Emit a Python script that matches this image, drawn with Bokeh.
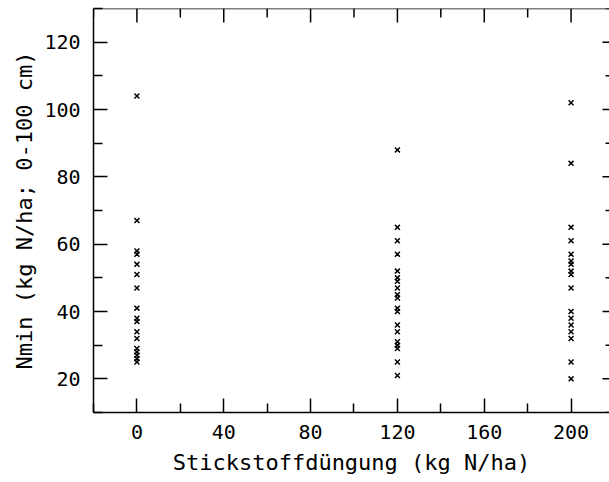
import math
from bokeh.plotting import figure
from bokeh.models import LinearAxis, FixedTicker, Range1d, Span
from bokeh.embed import file_html
from bokeh.resources import INLINE

# Data
n_levels = [0, 120, 200]
nmin_0 = [104, 67, 58, 57, 54, 51, 47, 41, 38, 37, 34, 32, 29, 28, 27, 26, 25]
nmin_120 = [88, 65, 61, 57, 52, 50, 49, 47, 45, 44, 41, 40, 36, 34, 31, 30, 29, 25, 21]
nmin_200 = [102, 84, 65, 61, 57, 55, 54, 52, 51, 47, 40, 38, 36, 34, 32, 25, 20]

x_ticks = [0, 40, 80, 120, 160, 200]
x_minor = [-20, 20, 60, 100, 140, 180, 220]
y_ticks = [20, 40, 60, 80, 100, 120]
y_minor = [10, 30, 50, 70, 90, 110, 130]

X0, X1, Y0, Y1 = -20, 217.7, 10, 130

xs, ys = [], []
for lvl, vals in zip(n_levels, [nmin_0, nmin_120, nmin_200]):
    xs += [lvl] * len(vals)
    ys += vals

FONT = "DejaVu Sans Mono"

p = figure(width=609, height=482, output_backend="svg", toolbar_location=None,
           x_range=Range1d(X0, X1), y_range=Range1d(Y0, Y1),
           x_axis_location=None, y_axis_location=None,
           min_border_left=93, min_border_right=0, min_border_top=8, min_border_bottom=70)
p.outline_line_color = None
p.xgrid.visible = False
p.ygrid.visible = False
p.background_fill_color = "white"
p.border_fill_color = "white"

p.scatter(xs, ys, marker="x", size=7, line_color="black", line_width=1.5)

def style(ax):
    ax.axis_line_color = "black"
    ax.axis_line_width = 1.5
    ax.major_tick_line_color = "black"
    ax.minor_tick_line_color = "black"
    ax.major_tick_line_width = 1.5
    ax.minor_tick_line_width = 1.5
    ax.major_tick_out = 0
    ax.minor_tick_out = 0
    ax.major_tick_in = 14
    ax.minor_tick_in = 9
    ax.major_label_text_font = FONT
    ax.major_label_text_font_size = "20px"
    ax.major_label_text_color = "black"
    ax.axis_label_text_font = FONT
    ax.axis_label_text_font_size = "22px"
    ax.axis_label_text_font_style = "normal"
    ax.axis_label_text_color = "black"

xb = LinearAxis(ticker=FixedTicker(ticks=x_ticks, minor_ticks=x_minor),
                axis_label="Stickstoffdüngung (kg N/ha)")
style(xb)
xb.major_label_standoff = 12
xb.axis_label_standoff = 8
p.add_layout(xb, "below")

yl = LinearAxis(ticker=FixedTicker(ticks=y_ticks, minor_ticks=y_minor),
                axis_label="Nmin (kg N/ha; 0-100 cm)")
style(yl)
yl.major_label_standoff = 13
yl.axis_label_standoff = 4
p.add_layout(yl, "left")

# top frame line and inward ticks (no labels)
p.add_layout(Span(location=Y1, dimension="width", line_color="black", line_width=1.5))
p.ray(x=x_ticks, y=[Y1] * len(x_ticks), length=14, angle=-math.pi / 2,
      length_units="screen", line_color="black", line_width=1.5)
p.ray(x=x_minor, y=[Y1] * len(x_minor), length=9, angle=-math.pi / 2,
      length_units="screen", line_color="black", line_width=1.5)
# right-side inward ticks (frame line lies just beyond the window)
p.ray(x=[X1] * len(y_ticks), y=y_ticks, length=7, angle=math.pi,
      length_units="screen", line_color="black", line_width=1.5)
p.ray(x=[X1] * len(y_minor), y=y_minor, length=4, angle=math.pi,
      length_units="screen", line_color="black", line_width=1.5)

open("out.html", "w").write(file_html(p, INLINE))
